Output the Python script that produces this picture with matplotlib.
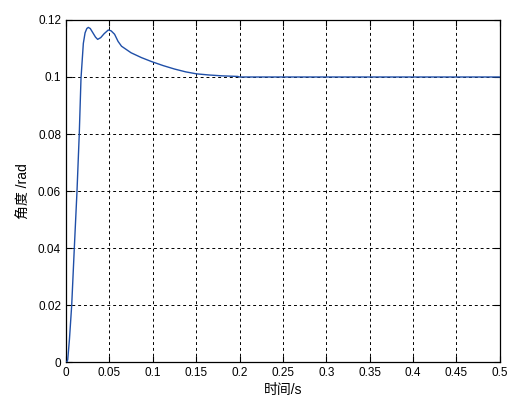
import numpy as np
import matplotlib
matplotlib.use("Agg")
import matplotlib.pyplot as plt

plt.rcParams['font.family'] = ['Liberation Sans', 'Noto Sans CJK SC', 'DejaVu Sans']

# step response
t = [0.0, 0.001, 0.002, 0.004, 0.0066, 0.0096, 0.0127, 0.0153, 0.0173, 0.020, 0.022,
     0.0240, 0.0257, 0.028, 0.031, 0.034, 0.0365, 0.040, 0.044, 0.0488, 0.052,
     0.056, 0.060, 0.064, 0.075, 0.087, 0.0987, 0.112, 0.125, 0.138, 0.1506, 0.165,
     0.180, 0.198, 0.200, 0.25, 0.30, 0.35, 0.40, 0.45, 0.50]
angle = [0.0, 0.0, 0.0008, 0.008, 0.020, 0.040, 0.060, 0.080, 0.0995, 0.1118, 0.1155,
         0.1170, 0.1174, 0.1170, 0.1155, 0.1140, 0.1132, 0.1138, 0.1152, 0.1165, 0.1162,
         0.1150, 0.1125, 0.1108, 0.1085, 0.1068, 0.1054, 0.1040, 0.1028, 0.1018, 0.1011,
         0.1007, 0.1004, 0.1002, 0.1000, 0.1000, 0.1000, 0.1000, 0.1000, 0.1000, 0.1000]

xticks = [0, 0.05, 0.1, 0.15, 0.2, 0.25, 0.3, 0.35, 0.4, 0.45, 0.5]
xticklabels = ['0', '0.05', '0.1', '0.15', '0.2', '0.25', '0.3', '0.35', '0.4', '0.45', '0.5']
yticks = [0, 0.02, 0.04, 0.06, 0.08, 0.1, 0.12]
yticklabels = ['0', '0.02', '0.04', '0.06', '0.08', '0.1', '0.12']

fig = plt.figure(figsize=(5.3, 4.08), dpi=100)
ax = fig.add_axes([0.1245, 0.1127, 0.8185, 0.8383])

ax.plot(t, angle, color='#1f4fa8', lw=1.0, zorder=3)

ax.set_xlim(0, 0.5)
ax.set_ylim(0, 0.12)
ax.set_xticks(xticks)
ax.set_xticklabels(xticklabels)
ax.set_yticks(yticks)
ax.set_yticklabels(yticklabels)
ax.tick_params(direction='in', length=4, width=0.8, labelsize=8.5, top=True, right=True, colors='black')
ax.grid(True, color='black', linestyle=(0, (3, 3)), linewidth=0.7)
for s in ax.spines.values():
    s.set_linewidth(0.9)

ax.set_xlabel('时间/s', fontsize=10, labelpad=3)
ax.set_ylabel('角度 /rad', fontsize=10, labelpad=5)

fig.savefig('out.png', dpi=100)
